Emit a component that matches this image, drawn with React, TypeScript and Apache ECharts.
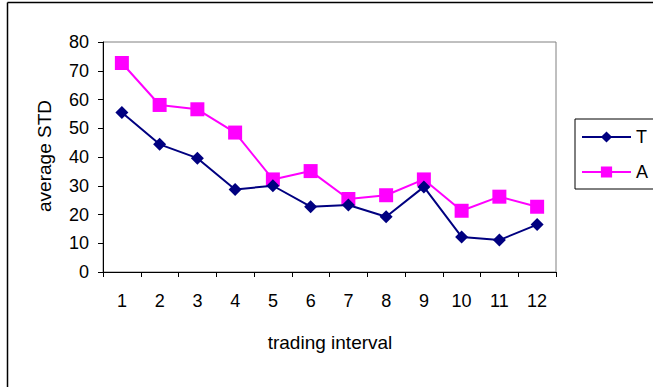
import React, { useEffect, useRef } from "react";
import * as echarts from "echarts";

const categories = ["1", "2", "3", "4", "5", "6", "7", "8", "9", "10", "11", "12"];
const seriesT = [55.5, 44.4, 39.6, 28.7, 30.0, 22.7, 23.3, 19.2, 29.6, 12.2, 11.1, 16.5];
const seriesA = [72.7, 58.1, 56.6, 48.5, 32.2, 35.1, 25.4, 26.7, 32.2, 21.3, 26.2, 22.7];
const xTitle = "trading interval";
const yTitle = "average STD";

const FONT = "'Liberation Sans', Arial, sans-serif";

export default function App() {
  const ref = useRef<HTMLDivElement>(null);
  useEffect(() => {
    document.body.style.margin = "0";
    const chart = echarts.init(ref.current!, null, { renderer: "svg" });
    chart.setOption({
      animation: false,
      backgroundColor: "#ffffff",
      textStyle: { fontFamily: FONT, color: "#000" },
      grid: {
        left: 103,
        top: 42,
        right: 97,
        bottom: 115,
        show: true,
        borderColor: "#808080",
        borderWidth: 1,
        backgroundColor: "transparent",
      },
      xAxis: {
        type: "category",
        data: categories,
        boundaryGap: true,
        axisLine: { show: true, lineStyle: { color: "#000", width: 1 } },
        axisTick: { show: true, inside: false, length: 5, alignWithLabel: false, lineStyle: { color: "#000" } },
        axisLabel: { fontSize: 18, color: "#000", margin: 20, fontFamily: FONT },
        splitLine: { show: false },
      },
      yAxis: {
        type: "value",
        min: 0,
        max: 80,
        interval: 10,
        axisLine: { show: true, lineStyle: { color: "#000", width: 1 } },
        axisTick: { show: true, inside: false, length: 5, lineStyle: { color: "#000" } },
        axisLabel: { fontSize: 18, color: "#000", margin: 14, fontFamily: FONT },
        splitLine: { show: false },
      },
      legend: {
        orient: "vertical",
        left: 575,
        top: 119,
        itemWidth: 49,
        itemHeight: 14,
        itemGap: 17,
        padding: [9, 7, 8, 6],
        borderColor: "#000",
        borderWidth: 1,
        textStyle: { fontSize: 18, color: "#000", fontFamily: FONT },
        data: ["T", "A"],
      },
      series: [
        {
          name: "T",
          type: "line",
          data: seriesT,
          symbol: "diamond",
          symbolSize: 13,
          itemStyle: { color: "#000080" },
          lineStyle: { color: "#000080", width: 2 },
          z: 3,
        },
        {
          name: "A",
          type: "line",
          data: seriesA,
          symbol: "rect",
          symbolSize: 14,
          itemStyle: { color: "#FF00FF" },
          lineStyle: { color: "#FF00FF", width: 2 },
          z: 2,
        },
      ],
      graphic: [
        {
          type: "line",
          shape: { x1: 7.5, y1: 2.5, x2: 653, y2: 2.5 },
          style: { stroke: "#000", lineWidth: 1.5 },
        },
        {
          type: "line",
          shape: { x1: 7.5, y1: 2.5, x2: 7.5, y2: 387 },
          style: { stroke: "#000", lineWidth: 1.5 },
        },
        {
          type: "text",
          x: 330,
          y: 342,
          style: {
            text: xTitle,
            fontSize: 19,
            fontFamily: FONT,
            fill: "#000",
            align: "center",
            verticalAlign: "middle",
          },
        },
        {
          type: "text",
          x: 44,
          y: 156,
          rotation: Math.PI / 2,
          style: {
            text: yTitle,
            fontSize: 19,
            fontFamily: FONT,
            fill: "#000",
            align: "center",
            verticalAlign: "middle",
          },
        },
      ],
    });
    return () => chart.dispose();
  }, []);
  return (
    <div
      ref={ref}
      style={{ position: "absolute", left: 0, top: 0, width: 653, height: 387 }}
    />
  );
}
